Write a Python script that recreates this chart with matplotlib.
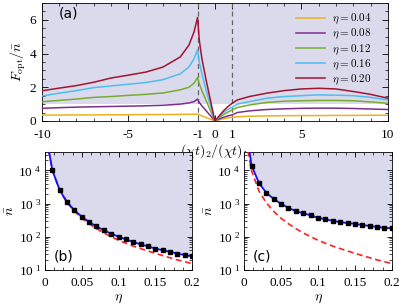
import numpy as np
import matplotlib
matplotlib.use('Agg')
import matplotlib.pyplot as plt
from matplotlib.ticker import MultipleLocator, FixedLocator, FuncFormatter, LogLocator, NullFormatter

plt.rcParams['font.family'] = ['Liberation Serif', 'DejaVu Serif']
plt.rcParams['mathtext.fontset'] = 'cm'

# panel (a): ratio of interaction times vs optimal Fisher information
ratio = [-10, -9, -8, -7, -6, -5, -4, -3, -2, -1.5, -1.2, -1, -0.9, -0.75, -0.5, -0.25, 0,
         0.25, 0.5, 0.75, 1, 1.3, 2, 3, 4, 5, 6, 7, 8, 9, 10]
f_004 = [0.35, 0.35, 0.36, 0.36, 0.37, 0.37, 0.38, 0.38, 0.39, 0.4, 0.4, 0.41, 0.37, 0.3, 0.2, 0.1, 0,
         0.07, 0.13, 0.18, 0.22, 0.25, 0.28, 0.3, 0.31, 0.32, 0.32, 0.33, 0.33, 0.34, 0.34]
f_008 = [0.75, 0.79, 0.82, 0.84, 0.86, 0.88, 0.9, 0.93, 1.0, 1.07, 1.15, 1.3, 1.1, 0.9, 0.6, 0.3, 0,
         0.12, 0.22, 0.3, 0.36, 0.5, 0.6, 0.68, 0.72, 0.75, 0.76, 0.76, 0.74, 0.71, 0.68]
f_012 = [1.14, 1.22, 1.3, 1.4, 1.45, 1.52, 1.58, 1.66, 1.85, 2.0, 2.25, 2.58, 2.2, 1.8, 1.2, 0.6, 0,
         0.2, 0.38, 0.52, 0.65, 0.8, 0.95, 1.1, 1.17, 1.2, 1.22, 1.22, 1.2, 1.13, 1.05]
f_016 = [1.48, 1.65, 1.8, 1.98, 2.08, 2.18, 2.28, 2.45, 2.8, 3.2, 3.7, 4.23, 3.5, 2.8, 1.8, 0.9, 0,
         0.25, 0.5, 0.68, 0.82, 1.0, 1.15, 1.35, 1.45, 1.5, 1.55, 1.53, 1.5, 1.4, 1.25]
f_020 = [1.79, 1.95, 2.1, 2.3, 2.55, 2.72, 2.9, 3.2, 3.8, 4.5, 5.3, 6.15, 4.8, 3.7, 2.4, 1.2, 0,
         0.3, 0.6, 0.85, 1.05, 1.25, 1.45, 1.65, 1.8, 1.9, 1.94, 1.9, 1.75, 1.58, 1.35]
curves = [f_004, f_008, f_012, f_016, f_020]
eta_labels = ['0.04', '0.08', '0.12', '0.16', '0.20']
colors = ['#EDB120', '#7E2F8E', '#77AC30', '#4DBEEE', '#A2142F']
ratio_ticks = [-10, -5, -1, 0, 1, 5, 10]

# panels (b), (c): threshold photon number vs eta
eta = [0.01, 0.02, 0.03, 0.04, 0.05, 0.06, 0.07, 0.08, 0.09, 0.1,
       0.11, 0.12, 0.13, 0.14, 0.15, 0.16, 0.17, 0.18, 0.19, 0.2]
n_b = [10000, 2500, 1111, 625, 400, 278, 204, 156, 123, 100,
       83, 69, 59, 51, 44, 39, 35, 31, 28, 25.5]
n_c = [14000, 4200, 2100, 1380, 980, 740, 590, 510, 440, 370,
       335, 300, 275, 257, 245, 225, 210, 196, 186, 178]
eta_red = [0.005, 0.01, 0.02, 0.03, 0.04, 0.05, 0.06, 0.07, 0.08, 0.09, 0.1,
           0.12, 0.14, 0.16, 0.18, 0.2]
n_red = [39000, 9800, 2400, 1050, 580, 360, 245, 175, 130, 100, 78,
         52, 37, 27, 20, 15.5]
eta_top_b, n_top_b = 0.005, 40000
eta_top_c, n_top_c = 0.007, 40000

lavender = '#dadaec'

fig = plt.figure(figsize=(3.99, 3.07), dpi=100)
ax = fig.add_axes([0.105, 0.606, 0.867, 0.384])
axb = fig.add_axes([0.113, 0.121, 0.368, 0.384])
axc = fig.add_axes([0.612, 0.121, 0.370, 0.384])

# ---- (a)
ax.axhspan(1, 7, color=lavender, lw=0, zorder=0)
for c, lab, y in zip(colors, eta_labels, curves):
    ax.plot(ratio, y, color=c, lw=1.1, label=r'$\eta = %s$' % lab, zorder=3)
for xv in (-1, 1):
    ax.axvline(xv, color='#666666', lw=0.9, dashes=(4, 3), zorder=2)
ax.set_xlim(-10, 10)
ax.set_ylim(0, 7)
ax.xaxis.set_major_locator(FixedLocator(ratio_ticks))
ax.xaxis.set_minor_locator(MultipleLocator(1))
ax.set_xticklabels(['-10', '-5', '-1', '0', '1', '5', '10'])
ax.yaxis.set_major_locator(FixedLocator([0, 2, 4, 6]))
ax.yaxis.set_minor_locator(MultipleLocator(0.5))
ax.tick_params(which='both', direction='in', top=True, right=True, labelsize=9.5)
ax.tick_params(axis='x', pad=6)
ax.tick_params(axis='y', pad=4)
ax.tick_params(which='major', length=4, width=0.6)
ax.tick_params(which='minor', length=2.5, width=0.5)
ax.set_xlabel(r'$(\chi t)_2/(\chi t)_1$', fontsize=10, labelpad=1)
ax.set_ylabel(r'$F_{\rm opt}/\bar{n}$', fontsize=10, labelpad=1)
ax.text(0.05, 0.88, '(a)', transform=ax.transAxes, fontsize=10, family='DejaVu Sans')
leg = ax.legend(loc='upper right', frameon=False, fontsize=8, handlelength=2.6,
                labelspacing=0.08, handletextpad=0.6, borderaxespad=0.3,
                bbox_to_anchor=(0.975, 0.99))
for s in ax.spines.values():
    s.set_linewidth(0.6)


# ---- (b), (c)
def lower_panel(a, n_blue, top_eta, top_n, label):
    xs = [top_eta] + eta
    ys = [top_n] + n_blue
    a.fill_between(xs, ys, 1e6, color=lavender, lw=0, zorder=0)
    a.plot(eta_red, n_red, color='#ff2020', lw=1.2, dashes=(3.5, 2.2), zorder=3)
    a.plot(xs, ys, color='#1010ff', lw=1.3, zorder=4)
    a.plot(eta, n_blue, 's', color='black', ms=2.2, zorder=5)
    a.set_yscale('log')
    a.set_xlim(0, 0.2)
    a.set_ylim(10, 3.6e4)
    a.xaxis.set_major_locator(FixedLocator([0, 0.05, 0.1, 0.15, 0.2]))
    a.set_xticklabels(['0', '0.05', '0.1', '0.15', '0.2'])
    a.xaxis.set_minor_locator(MultipleLocator(0.0125))
    a.yaxis.set_major_locator(FixedLocator([10, 100, 1000, 10000]))
    a.yaxis.set_major_formatter(FuncFormatter(
        lambda v, p: r'$\mathregular{10^{\,\,%d}}$' % int(round(np.log10(v)))))
    a.yaxis.set_minor_locator(LogLocator(base=10, subs=np.arange(2, 10)))
    a.yaxis.set_minor_formatter(NullFormatter())
    a.tick_params(which='both', direction='in', top=True, right=True, labelsize=9.5)
    a.tick_params(axis='x', pad=5)
    a.tick_params(axis='y', pad=3)
    a.tick_params(which='major', length=3.5, width=0.6)
    a.tick_params(which='minor', length=2, width=0.5)
    a.set_xlabel(r'$\eta$', fontsize=10, labelpad=2)
    a.set_ylabel(r'$\bar{n}$', fontsize=10, labelpad=1)
    a.text(0.06, 0.08, label, transform=a.transAxes, fontsize=10, family='DejaVu Sans')
    for s in a.spines.values():
        s.set_linewidth(0.6)


lower_panel(axb, n_b, eta_top_b, n_top_b, '(b)')
lower_panel(axc, n_c, eta_top_c, n_top_c, '(c)')

fig.savefig('out.png', dpi=100)
